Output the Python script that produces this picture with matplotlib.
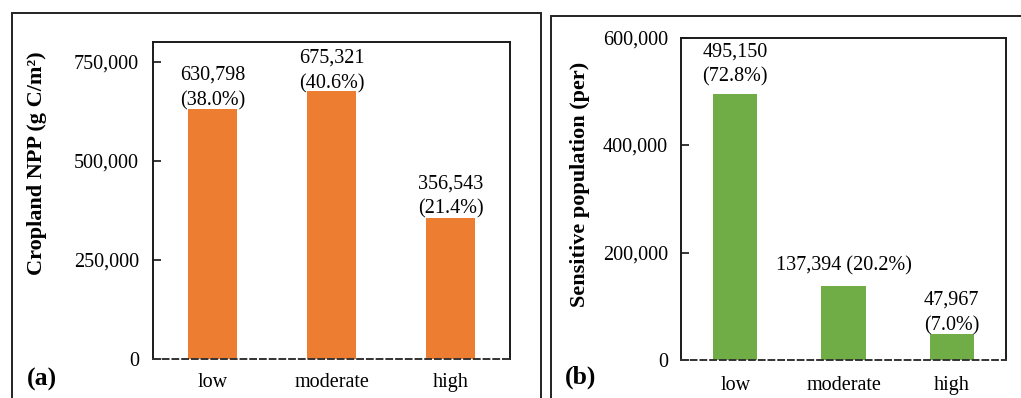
import matplotlib
matplotlib.use("Agg")
import matplotlib.pyplot as plt
from matplotlib.ticker import FuncFormatter
from matplotlib.patches import Rectangle

# ---- data ----
categories = ["low", "moderate", "high"]
npp_values = [630798, 675321, 356543]
npp_shares = ["38.0%", "40.6%", "21.4%"]
pop_values = [495150, 137394, 47967]
pop_shares = ["72.8%", "20.2%", "7.0%"]
npp_ticks = [0, 250000, 500000, 750000]
pop_ticks = [0, 200000, 400000, 600000]

ORANGE = "#ED7D31"
GREEN = "#70AD47"

plt.rcParams["font.family"] = ["Liberation Serif", "DejaVu Serif"]

fig = plt.figure(figsize=(10.21, 3.98), dpi=100)

# outer panel frames
fig.patches.append(Rectangle((12 / 1021, -0.05), 529 / 1021, 0.05 + 385 / 398,
                             transform=fig.transFigure, fill=False,
                             edgecolor="#222222", linewidth=1.4, zorder=0))
fig.patches.append(Rectangle((551 / 1021, -0.05), 0.6, 0.05 + 382 / 398,
                             transform=fig.transFigure, fill=False,
                             edgecolor="#222222", linewidth=1.4, zorder=0))

comma = FuncFormatter(lambda v, p: f"{int(v):,}")


def panel(rect, values, shares, color, ticks, ylim, ylabel, label_xy,
          label_pads, one_line, tick_pad, x_pad):
    ax = fig.add_axes(rect)
    x = range(len(categories))
    ax.bar(x, values, width=0.41, color=color, zorder=2)
    ax.set_xlim(-0.5, len(categories) - 0.5)
    ax.set_ylim(*ylim)
    ax.set_yticks(ticks)
    ax.yaxis.set_major_formatter(comma)
    ax.set_xticks(list(x))
    ax.set_xticklabels(categories)
    ax.tick_params(axis="y", direction="in", length=6, width=1.1,
                   labelsize=14.5, pad=tick_pad)
    ax.tick_params(axis="x", length=0, labelsize=14.5, pad=x_pad)
    for s in ax.spines.values():
        s.set_linewidth(1.4)
        s.set_color("#1a1a1a")
    ax.spines["bottom"].set_linestyle((0, (3, 2)))
    ax.spines["bottom"].set_color("#333333")
    ax.set_ylabel(ylabel, fontsize=16, fontweight="bold")
    ax.yaxis.label.set_verticalalignment("center")
    ax.yaxis.set_label_coords(*label_xy)
    for i, (v, s) in enumerate(zip(values, shares)):
        sep = " " if one_line[i] else "\n"
        ax.annotate(f"{v:,}{sep}({s})", (i, v), xytext=(0, label_pads[i]),
                    textcoords="offset pixels", ha="center", va="bottom",
                    fontsize=14.5, linespacing=1.45, zorder=3)
    return ax


panel([153 / 1021, 39 / 398, 357 / 1021, 317 / 398],
      npp_values, npp_shares, ORANGE, npp_ticks, (0, 800000),
      "Cropland NPP (g C/m²)", (-0.325, 0.617),
      [-1, -2, -1], [False, False, False], 10, 10)

panel([681 / 1021, 38 / 398, 325 / 1021, 322.5 / 398],
      pop_values, pop_shares, GREEN, pop_ticks, (0, 600000),
      "Sensitive population (per)", (-0.311, 0.546),
      [7, 11, -1], [False, True, False], 9.5, 11.5)

fig.text(42 / 1021, 1 - 379 / 398, "(a)", fontsize=18.5, fontweight="bold",
         ha="center", va="center")
fig.text(581 / 1021, 1 - 377 / 398, "(b)", fontsize=18.5, fontweight="bold",
         ha="center", va="center")

fig.savefig("out.png", dpi=100)
